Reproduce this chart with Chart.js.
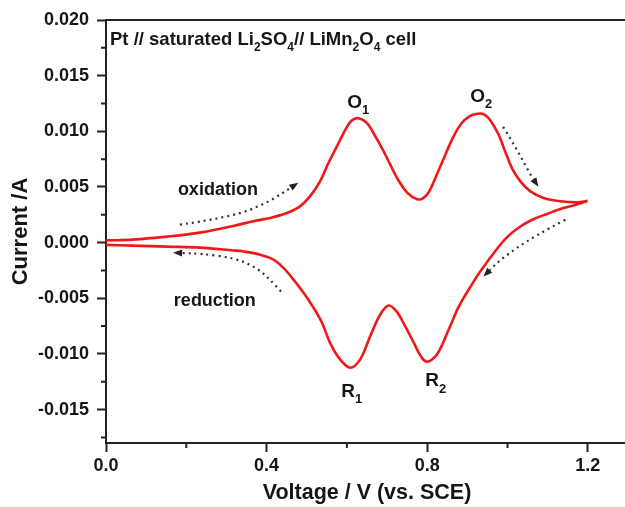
<!DOCTYPE html>
<html>
<head>
<meta charset="utf-8">
<script src="https://cdn.jsdelivr.net/npm/chart.js@4/dist/chart.umd.min.js"></script>
<style>
  html, body { margin: 0; padding: 0; background: #fff; overflow: hidden; }
  #wrap { width: 632px; height: 507px; }
</style>
</head>
<body>
<div id="wrap"><canvas id="cv" width="632" height="507"></canvas></div>
<script>
// anodic sweep (0 -> 1.2 V)
const oxVoltage = [0.000, 0.067, 0.152, 0.234, 0.317, 0.370, 0.409, 0.450, 0.483, 0.508, 0.533, 0.554, 0.575, 0.596, 0.612, 0.629, 0.650, 0.670, 0.690, 0.708, 0.725, 0.750, 0.775, 0.790, 0.805, 0.832, 0.865, 0.885, 0.905, 0.925, 0.940, 0.957, 0.978, 0.994, 1.011, 1.032, 1.057, 1.090, 1.131, 1.175, 1.199];
const oxCurrent = [0.00020, 0.00027, 0.00054, 0.00090, 0.00150, 0.00195, 0.00222, 0.00266, 0.00326, 0.00415, 0.00550, 0.00715, 0.00864, 0.01013, 0.01097, 0.01118, 0.01074, 0.00960, 0.00830, 0.00700, 0.00580, 0.00450, 0.00390, 0.00400, 0.00460, 0.00680, 0.00950, 0.01070, 0.01135, 0.01158, 0.01155, 0.01100, 0.00969, 0.00819, 0.00670, 0.00550, 0.00460, 0.00401, 0.00372, 0.00362, 0.00375];

// cathodic sweep (1.2 -> 0 V)
const redVoltage = [1.199, 1.170, 1.130, 1.100, 1.064, 1.030, 0.999, 0.975, 0.950, 0.928, 0.907, 0.890, 0.875, 0.862, 0.850, 0.837, 0.825, 0.812, 0.800, 0.790, 0.779, 0.768, 0.758, 0.745, 0.724, 0.704, 0.683, 0.658, 0.633, 0.608, 0.583, 0.558, 0.538, 0.517, 0.492, 0.467, 0.442, 0.417, 0.384, 0.340, 0.317, 0.234, 0.152, 0.067, 0.000];
const redCurrent = [0.00375, 0.00340, 0.00300, 0.00260, 0.00210, 0.00140, 0.00050, -0.00050, -0.00170, -0.00280, -0.00400, -0.00500, -0.00600, -0.00710, -0.00810, -0.00920, -0.01000, -0.01050, -0.01070, -0.01050, -0.00990, -0.00910, -0.00840, -0.00750, -0.00620, -0.00565, -0.00646, -0.00840, -0.01049, -0.01124, -0.01049, -0.00900, -0.00720, -0.00586, -0.00451, -0.00332, -0.00227, -0.00152, -0.00108, -0.00078, -0.00070, -0.00045, -0.00036, -0.00027, -0.00020];

const xTicks = [0, 0.2, 0.4, 0.6, 0.8, 1.0, 1.2];
const xMajor = [0, 0.4, 0.8, 1.2];
const yTicks = [-0.0175, -0.015, -0.0125, -0.01, -0.0075, -0.005, -0.0025, 0, 0.0025, 0.005, 0.0075, 0.01, 0.0125, 0.015, 0.0175, 0.02];
const yMajor = [-0.015, -0.01, -0.005, 0, 0.005, 0.01, 0.015, 0.02];

const FONT = '"Liberation Sans", Arial, sans-serif';
const INK = '#161616';
const RED = '#f01818';

const isIn = (arr, v) => arr.some(a => Math.abs(a - v) < 1e-9);
const pts = (xs, ys) => xs.map((x, i) => ({ x: x, y: ys[i] }));

// text labels placed in data coordinates (left edge, baseline)
const notes = [
  { v: 0.601, i: 0.01211, size: 19, parts: [['O'], ['1', true]] },
  { v: 0.907, i: 0.01265, size: 19, parts: [['O'], ['2', true]] },
  { v: 0.586, i: -0.0139, size: 19, parts: [['R'], ['1', true]] },
  { v: 0.795, i: -0.01292, size: 19, parts: [['R'], ['2', true]] },
  { v: 0.179, i: 0.0043, size: 18, parts: [['oxidation']] },
  { v: 0.169, i: -0.00565, size: 18, parts: [['reduction']] },
  { v: 0.010, i: 0.01776, size: 18.5, parts: [['Pt // saturated Li'], ['2', true], ['SO'], ['4', true], ['// LiMn'], ['2', true], ['O'], ['4', true], [' cell']] }
];

// dotted guide arrows (last point is the tip)
const arrows = [
  [[0.184, 0.00161], [0.317, 0.00233], [0.401, 0.00359], [0.441, 0.00448], [0.479, 0.00538]],
  [[0.436, -0.00439], [0.416, -0.00359], [0.376, -0.00224], [0.317, -0.00135], [0.234, -0.00099], [0.167, -0.00090]],
  [[0.989, 0.0104], [1.024, 0.00834], [1.057, 0.0061], [1.077, 0.00502]],
  [[1.144, 0.00206], [1.064, 0.00054], [0.982, -0.00152], [0.940, -0.00305]]
];

const decorPlugin = {
  id: 'decor',
  afterDraw(chart) {
    const ctx = chart.ctx;
    const xs = chart.scales.x, ys = chart.scales.y;
    const a = chart.chartArea;
    ctx.save();
    // frame top + right
    ctx.strokeStyle = '#222';
    ctx.lineWidth = 2;
    ctx.beginPath();
    ctx.moveTo(a.left, a.top);
    ctx.lineTo(a.right, a.top);
    ctx.lineTo(a.right, a.bottom);
    ctx.stroke();
    // minor ticks
    ctx.beginPath();
    xTicks.filter(v => !isIn(xMajor, v)).forEach(v => {
      const px = xs.getPixelForValue(v);
      ctx.moveTo(px, a.bottom);
      ctx.lineTo(px, a.bottom + 5);
    });
    yTicks.filter(v => !isIn(yMajor, v)).forEach(v => {
      const py = ys.getPixelForValue(v);
      ctx.moveTo(a.left, py);
      ctx.lineTo(a.left - 5, py);
    });
    ctx.stroke();

    // labels
    ctx.fillStyle = INK;
    ctx.textBaseline = 'alphabetic';
    notes.forEach(n => {
      let x = xs.getPixelForValue(n.v);
      const y = ys.getPixelForValue(n.i);
      const subSize = Math.round(n.size * 0.66);
      n.parts.forEach(p => {
        const sub = p[1];
        ctx.font = 'bold ' + (sub ? subSize : n.size) + 'px ' + FONT;
        ctx.fillText(p[0], x, sub ? y + n.size * 0.32 : y);
        x += ctx.measureText(p[0]).width;
      });
    });

    // arrows
    ctx.strokeStyle = '#333';
    ctx.fillStyle = '#222';
    ctx.lineWidth = 2.2;
    arrows.forEach(path => {
      const p = path.map(q => [xs.getPixelForValue(q[0]), ys.getPixelForValue(q[1])]);
      const tip = p[p.length - 1], prev = p[p.length - 2];
      let dx = tip[0] - prev[0], dy = tip[1] - prev[1];
      const len = Math.hypot(dx, dy);
      dx /= len; dy /= len;
      const base = [tip[0] - dx * 9, tip[1] - dy * 9];
      const line = p.slice(0, -1).concat([base]);
      ctx.setLineDash([2, 4]);
      ctx.beginPath();
      ctx.moveTo(line[0][0], line[0][1]);
      for (let i = 1; i < line.length - 1; i++) {
        const mx = (line[i][0] + line[i + 1][0]) / 2, my = (line[i][1] + line[i + 1][1]) / 2;
        ctx.quadraticCurveTo(line[i][0], line[i][1], mx, my);
      }
      ctx.lineTo(base[0], base[1]);
      ctx.stroke();
      ctx.setLineDash([]);
      ctx.beginPath();
      ctx.moveTo(tip[0], tip[1]);
      ctx.lineTo(base[0] - dy * 3.5, base[1] + dx * 3.5);
      ctx.lineTo(base[0] + dy * 3.5, base[1] - dx * 3.5);
      ctx.closePath();
      ctx.fill();
    });
    ctx.restore();
  }
};

const tickFont = { family: FONT, size: 18, weight: 'bold' };

new Chart(document.getElementById('cv'), {
  type: 'scatter',
  data: {
    datasets: [
      { label: 'oxidation', data: pts(oxVoltage, oxCurrent), showLine: true, borderColor: RED, borderWidth: 2.6, pointRadius: 0, tension: 0.35, fill: false },
      { label: 'reduction', data: pts(redVoltage, redCurrent), showLine: true, borderColor: RED, borderWidth: 2.6, pointRadius: 0, tension: 0.35, fill: false }
    ]
  },
  options: {
    responsive: false,
    animation: false,
    devicePixelRatio: 1,
    layout: { padding: { top: 20, right: 4, bottom: 0, left: 0 } },
    plugins: { legend: { display: false }, tooltip: { enabled: false } },
    scales: {
      x: {
        type: 'linear', position: 'bottom', min: 0, max: 1.3,
        afterBuildTicks: s => { s.ticks = xTicks.map(v => ({ value: v })); },
        afterFit: s => { s.height = 64; },
        ticks: {
          autoSkip: false, maxRotation: 0, padding: 3, color: INK, font: tickFont,
          callback: v => isIn(xMajor, v) ? v.toFixed(1) : ''
        },
        grid: {
          drawOnChartArea: false, drawTicks: true, tickLength: 9, tickWidth: 2,
          tickColor: c => isIn(xMajor, c.tick.value) ? '#222' : 'rgba(0,0,0,0)'
        },
        border: { color: '#222', width: 2 },
        title: { display: true, text: 'Voltage / V (vs. SCE)', color: INK, font: { family: FONT, size: 21.5, weight: 'bold' }, padding: { top: 2, bottom: 1 } }
      },
      y: {
        type: 'linear', position: 'left', min: -0.018, max: 0.02,
        afterBuildTicks: s => { s.ticks = yTicks.map(v => ({ value: v })); },
        afterFit: s => { s.width = 106; },
        ticks: {
          autoSkip: false, padding: 8, color: INK, font: tickFont,
          callback: v => isIn(yMajor, v) ? v.toFixed(3) : ''
        },
        grid: {
          drawOnChartArea: false, drawTicks: true, tickLength: 9, tickWidth: 2,
          tickColor: c => isIn(yMajor, c.tick.value) ? '#222' : 'rgba(0,0,0,0)'
        },
        border: { color: '#222', width: 2 },
        title: { display: true, text: 'Current /A', color: INK, font: { family: FONT, size: 22, weight: 'bold' }, padding: { top: 8, bottom: 0 } }
      }
    }
  },
  plugins: [decorPlugin]
});
</script>
</body>
</html>
